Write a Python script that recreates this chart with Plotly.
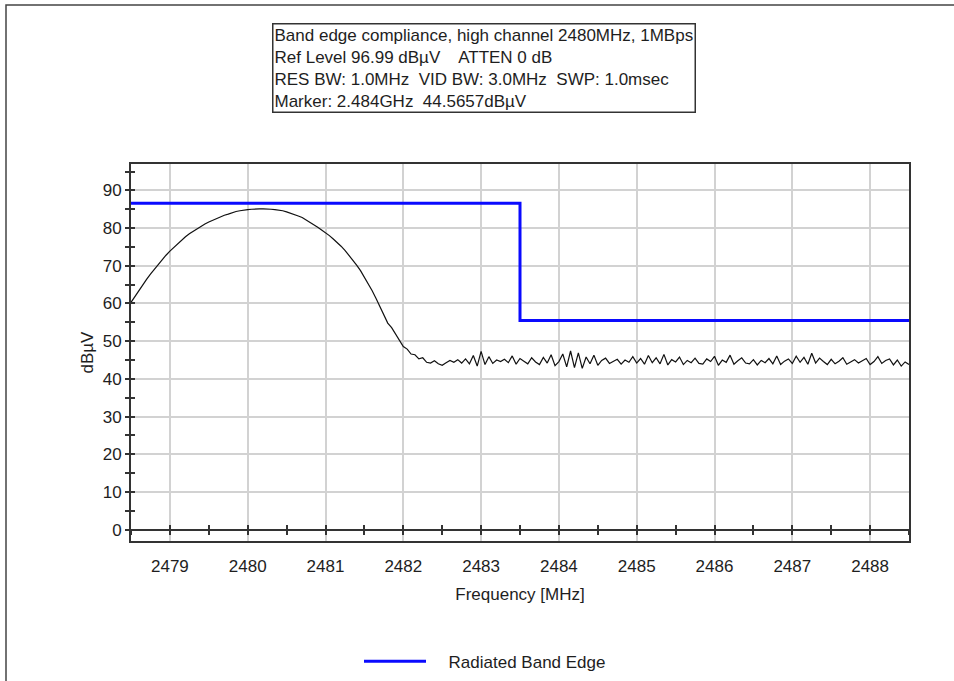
import plotly.graph_objects as go

# ---------------- data ----------------
freq_start = 2478.5      # MHz
freq_step = 0.05         # MHz (sweep point spacing)

# measured trace (dBµV), one value per sweep point starting at 2478.50 MHz
trace_dbuv = [
    60.3, 61.9, 63.5, 65.0, 66.4, 67.8, 69.1, 70.4, 71.6, 72.8,
    73.9, 74.9, 75.9, 76.8, 77.7, 78.5, 79.2, 79.9, 80.5, 81.1,
    81.6, 82.1, 82.6, 83.0, 83.4, 83.7, 84.1, 84.4, 84.6, 84.8,
    84.9, 85.0, 85.1, 85.1, 85.1, 85.1, 85.0, 84.9, 84.8, 84.6,
    84.3, 84.0, 83.6, 83.2, 82.8, 82.2, 81.6, 80.9, 80.2, 79.5,
    78.8, 78.0, 77.1, 76.2, 75.2, 74.1, 72.9, 71.6, 70.2, 68.7,
    67.0, 65.2, 63.4, 61.3, 59.1, 56.9, 54.8, 53.6, 51.8, 50.4,
    48.6, 47.9, 46.6, 46.4, 45.3, 45.6, 44.4, 44.2,
    # noise floor 2482.40 ... 2488.50
    44.8, 44.0, 43.6, 44.3, 44.9, 44.4, 45.1, 44.2, 45.3, 44.0,
    46.2, 43.4, 47.3, 43.8, 45.9, 44.1, 45.0, 44.6, 45.2, 44.3,
    46.1, 43.9, 45.4, 44.7, 44.0, 45.6, 44.5, 43.8, 45.7, 44.2,
    46.4, 43.5, 44.6, 46.6, 43.2, 47.4, 43.0, 46.9, 42.8, 45.8,
    44.0, 46.3, 43.6, 44.9, 45.5, 44.1, 44.6, 45.2, 43.9, 45.0,
    44.4, 45.9, 44.2, 45.4, 43.9, 46.2, 44.3, 45.6, 44.0, 46.5,
    43.7, 45.1, 44.5, 45.8, 43.8, 44.9, 44.3, 45.5, 44.1, 43.9,
    45.3, 44.6, 46.0, 43.6, 45.0, 44.4, 46.3, 43.9, 44.8, 45.6,
    44.2, 44.0, 45.1, 43.7, 44.9, 44.3, 45.4, 44.0, 46.1, 43.8,
    44.7, 45.3, 44.1, 46.0, 44.4, 45.7, 43.9, 46.8, 44.2, 45.5,
    44.6, 43.8, 45.2, 44.0, 44.7, 45.6, 43.9, 44.5, 45.1, 44.2,
    44.8, 45.4, 43.8, 44.6, 45.9, 44.1, 44.9, 45.3, 43.7, 45.0,
    43.4, 44.5, 43.8,
]
trace_freq = [round(freq_start + i * freq_step, 3) for i in range(len(trace_dbuv))]

# limit line "Radiated Band Edge"
limit_freq = [2478.5, 2483.5, 2488.5]
limit_dbuv = [86.6, 55.5, 55.5]

x_tick_vals = [2479, 2480, 2481, 2482, 2483, 2484, 2485, 2486, 2487, 2488]
x_tick_text = [str(v) for v in x_tick_vals]
y_tick_vals = [0, 10, 20, 30, 40, 50, 60, 70, 80, 90]
y_tick_text = [str(v) for v in y_tick_vals]

x_range = [2478.5, 2488.5]
y_range = [-3, 97]

info_lines = [
    "Band edge compliance, high channel 2480MHz, 1MBps",
    "Ref Level 96.99 dBµV    ATTEN 0 dB",
    "RES BW: 1.0MHz  VID BW: 3.0MHz  SWP: 1.0msec",
    "Marker: 2.484GHz  44.5657dBµV",
]

# ---------------- figure ----------------
FONT = "Liberation Sans, Arial, sans-serif"
TXT = "#1e1e1e"
FRAME = "#333333"
GRID = "#d2d2d2"

fig = go.Figure()
fig.add_trace(go.Scatter(
    x=trace_freq, y=trace_dbuv, mode="lines",
    line=dict(color="#111111", width=1.2),
    showlegend=False, name="Trace"))
fig.add_trace(go.Scatter(
    x=limit_freq, y=limit_dbuv, mode="lines", line_shape="hv",
    line=dict(color="#0a0aff", width=3),
    name="&nbsp;&nbsp;&nbsp;&#8201;Radiated Band Edge"))
# invisible carriers so that the overlay axes (y=0 line with crossing ticks) are drawn
for xa, ya in (("x2", "y"), ("x3", "y"), ("x", "y2")):
    fig.add_trace(go.Scatter(
        x=limit_freq, y=limit_dbuv, xaxis=xa, yaxis=ya, mode="lines",
        line=dict(width=0, color="rgba(0,0,0,0)"), showlegend=False,
        hoverinfo="skip"))

y0_frac = (0 - y_range[0]) / (y_range[1] - y_range[0])

fig.update_layout(
    width=954, height=681,
    margin=dict(l=131, r=45, t=164, b=140, autoexpand=False),
    paper_bgcolor="white", plot_bgcolor="white",
    font=dict(family=FONT, size=17, color=TXT),
    xaxis=dict(
        range=x_range, tickvals=x_tick_vals, ticktext=x_tick_text,
        showgrid=True, gridcolor=GRID, gridwidth=1.5,
        ticks="outside", ticklen=9, tickcolor="rgba(0,0,0,0)",
        showline=True, mirror=True, linecolor=FRAME, linewidth=2,
        zeroline=False,
        title=dict(text="Frequency [MHz]", standoff=13,
                   font=dict(family=FONT, size=17, color=TXT)),
    ),
    xaxis2=dict(
        range=x_range, overlaying="x", anchor="free", position=y0_frac,
        side="bottom", showline=True, linecolor=FRAME, linewidth=1.5,
        tick0=2479, dtick=0.5, ticks="inside", ticklen=4, tickwidth=1.5,
        tickcolor=FRAME, showticklabels=False, showgrid=False, zeroline=False,
    ),
    xaxis3=dict(
        range=x_range, overlaying="x", anchor="free", position=y0_frac,
        side="bottom", showline=False,
        tick0=2479, dtick=0.5, ticks="outside", ticklen=4, tickwidth=1.5,
        tickcolor=FRAME, showticklabels=False, showgrid=False, zeroline=False,
    ),
    yaxis=dict(
        range=y_range, tickvals=y_tick_vals, ticktext=y_tick_text,
        showgrid=True, gridcolor=GRID, gridwidth=1.5,
        ticks="outside", ticklen=4, tickwidth=1.5, tickcolor=FRAME,
        minor=dict(dtick=5, tick0=0, ticks="outside", ticklen=4,
                   tickwidth=1.5, tickcolor=FRAME, showgrid=False),
        showline=True, mirror=True, linecolor=FRAME, linewidth=2,
        zeroline=False,
        title=dict(text="dBµV", standoff=5,
                   font=dict(family=FONT, size=17, color=TXT)),
    ),
    yaxis2=dict(
        range=y_range, overlaying="y", anchor="x", side="left",
        tick0=0, dtick=5, ticks="inside", ticklen=4, tickwidth=1.5,
        tickcolor=FRAME, showticklabels=False, showgrid=False,
        showline=False, zeroline=False,
    ),
    legend=dict(
        orientation="h", x=(359 - 131) / 778, y=-0.3204,
        xanchor="left", yanchor="middle",
        font=dict(family=FONT, size=17, color=TXT),
        bgcolor="rgba(0,0,0,0)", itemwidth=62,
    ),
    annotations=[dict(
        xref="paper", yref="paper", x=(272 - 131) / 778, y=(541 - 23) / 377,
        xanchor="left", yanchor="top", align="left", showarrow=False,
        text="<br>".join(info_lines),
        font=dict(family=FONT, size=17, color=TXT),
        bordercolor=FRAME, borderwidth=1.5, borderpad=1, bgcolor="white",
    )],
    shapes=[dict(
        type="rect", xref="paper", yref="paper",
        x0=(6 - 131) / 778, x1=(990 - 131) / 778,
        y0=(541 - 720) / 377, y1=(541 - 5) / 377,
        line=dict(color="#444444", width=1.5), fillcolor="rgba(0,0,0,0)",
        layer="below",
    )],
)

fig.write_html("out.html")
